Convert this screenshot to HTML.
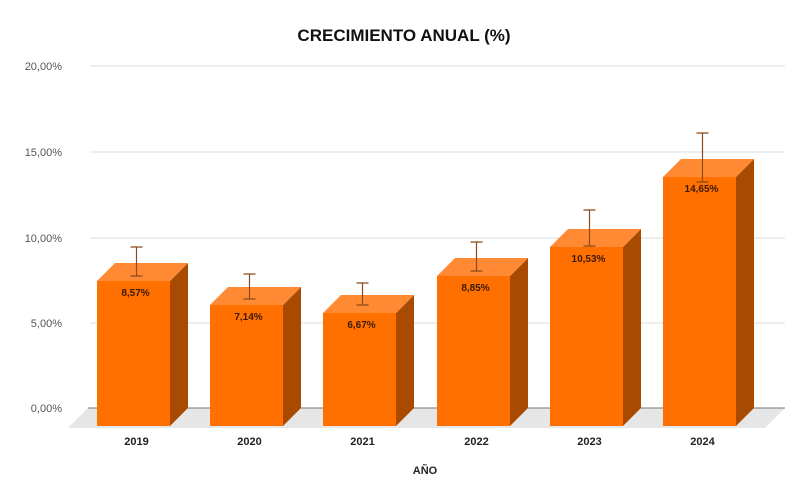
<!DOCTYPE html>
<html><head><meta charset="utf-8"><style>body{margin:0;background:#fff}svg{display:block}text{font-family:"Liberation Sans",Arial,sans-serif}</style></head><body>
<svg width="808" height="500" viewBox="0 0 808 500">
<text x="404" y="41" text-anchor="middle" font-size="17" font-weight="bold" fill="#111">CRECIMIENTO ANUAL (%)</text>
<polygon points="88,408 785,408 765,428 68,428" fill="#e6e6e6"/>
<g stroke="#dcdcdc" stroke-width="1">
<line x1="90" y1="66" x2="785" y2="66"/><line x1="90" y1="152" x2="785" y2="152"/><line x1="90" y1="238" x2="785" y2="238"/><line x1="90" y1="323" x2="785" y2="323"/>
</g>
<line x1="88" y1="408" x2="785" y2="408" stroke="#777" stroke-width="1"/>
<g font-size="11" fill="#555" text-anchor="end">
<text x="62" y="70">20,00%</text><text x="62" y="156">15,00%</text><text x="62" y="242">10,00%</text><text x="62" y="327">5,00%</text><text x="62" y="412">0,00%</text>
</g>
<g>
<polygon points="170,281 188,263 188,408 170,426" fill="#a84a00"/><polygon points="97,281 115,263 188,263 170,281" fill="#ff8a33"/><rect x="97" y="281" width="73" height="145" fill="#ff7000"/>
<polygon points="283,305 301,287 301,408 283,426" fill="#a84a00"/><polygon points="210,305 228,287 301,287 283,305" fill="#ff8a33"/><rect x="210" y="305" width="73" height="121" fill="#ff7000"/>
<polygon points="396,313 414,295 414,408 396,426" fill="#a84a00"/><polygon points="323,313 341,295 414,295 396,313" fill="#ff8a33"/><rect x="323" y="313" width="73" height="113" fill="#ff7000"/>
<polygon points="510,276 528,258 528,408 510,426" fill="#a84a00"/><polygon points="437,276 455,258 528,258 510,276" fill="#ff8a33"/><rect x="437" y="276" width="73" height="150" fill="#ff7000"/>
<polygon points="623,247 641,229 641,408 623,426" fill="#a84a00"/><polygon points="550,247 568,229 641,229 623,247" fill="#ff8a33"/><rect x="550" y="247" width="73" height="179" fill="#ff7000"/>
<polygon points="736,177 754,159 754,408 736,426" fill="#a84a00"/><polygon points="663,177 681,159 754,159 736,177" fill="#ff8a33"/><rect x="663" y="177" width="73" height="249" fill="#ff7000"/>
</g>
<g stroke="#8a4a1a" stroke-width="1.2">
<path d="M136.5 247V276M130.5 247H142.5M130.5 276H142.5"/>
<path d="M249.5 274V299M243.5 274H255.5M243.5 299H255.5"/>
<path d="M362.5 283V305M356.5 283H368.5M356.5 305H368.5"/>
<path d="M476.5 242V271M470.5 242H482.5M470.5 271H482.5"/>
<path d="M589.5 210V246M583.5 210H595.5M583.5 246H595.5"/>
<path d="M702.5 133V182M696.5 133H708.5M696.5 182H708.5"/>
</g>
<g font-size="10" font-weight="bold" fill="#3a1a05" text-anchor="middle">
<text x="135.5" y="296">8,57%</text><text x="248.5" y="320">7,14%</text><text x="361.5" y="328">6,67%</text><text x="475.5" y="291">8,85%</text><text x="588.5" y="262">10,53%</text><text x="701.5" y="192">14,65%</text>
</g>
<g font-size="11" font-weight="bold" fill="#222" text-anchor="middle">
<text x="136.5" y="445">2019</text><text x="249.5" y="445">2020</text><text x="362.5" y="445">2021</text><text x="476.5" y="445">2022</text><text x="589.5" y="445">2023</text><text x="702.5" y="445">2024</text>
</g>
<text x="425" y="474" text-anchor="middle" font-size="11" font-weight="bold" fill="#222">AÑO</text>
</svg>
</body></html>
